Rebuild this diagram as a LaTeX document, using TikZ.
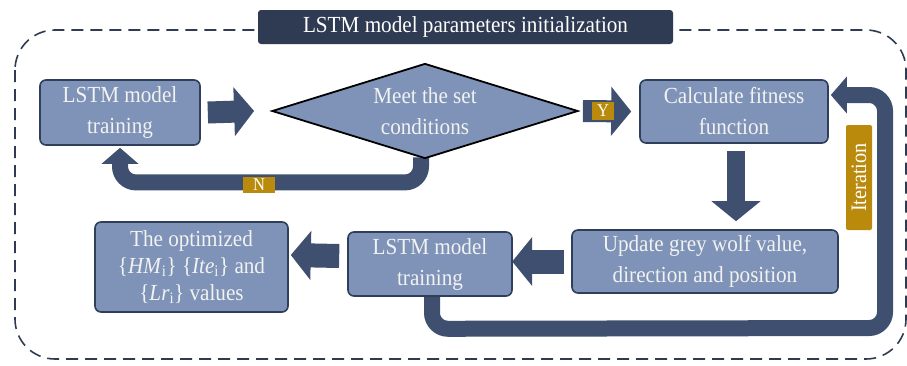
\documentclass[tikz,border=0pt]{standalone}
\usepackage{fontspec}
\setmainfont{Liberation Serif}[FakeStretch=0.92]
\usetikzlibrary{arrows.meta,shapes.geometric,calc,backgrounds}
\definecolor{boxfill}{HTML}{7E93B7}
\definecolor{boxline}{HTML}{2F3E5A}
\definecolor{arrowc}{HTML}{3E4F6F}
\definecolor{titlec}{HTML}{2E3B52}
\definecolor{goldc}{HTML}{BA8A0C}
\definecolor{textc}{HTML}{F2F2F2}
\begin{document}
\begin{tikzpicture}[x=1pt,y=-1pt,
 box/.style={draw=boxline, line width=1.6pt, fill=boxfill, rounded corners=6pt, text=textc, align=center, font=\fontsize{23}{31}\selectfont, inner sep=0pt},
 blockarrow/.style={draw=arrowc, line width=22pt, -{Triangle[width=48pt,length=20pt]}},
 loopband/.style={draw=arrowc, line width=16pt, rounded corners=16pt, -{Triangle[width=36pt,length=16pt]}},
 tag/.style={fill=goldc, text=white, inner sep=0pt, font=\fontsize{18}{18}\selectfont}
]
\useasboundingbox (0,0) rectangle (907,365);

% nodes
\node[box, minimum width=160pt, minimum height=65pt] (b1) at (120,112.5) {LSTM model\\training};
\node[diamond, draw=black, line width=1.8pt, fill=boxfill, minimum width=306pt, minimum height=95pt, inner sep=0pt, shape aspect=3.22, text=textc, align=center, font=\fontsize{23}{31}\selectfont] (d) at (425,111) {Meet the set\\conditions};
\node[box, minimum width=188pt, minimum height=63pt] (c) at (734,111.5) {Calculate fitness\\function};
\node[box, minimum width=266pt, minimum height=63pt] (u) at (705,261.5) {Update grey wolf value,\\direction and position};
\node[box, minimum width=164pt, minimum height=64pt] (l2) at (430,264) {LSTM model\\training};
\node[box, minimum width=193pt, minimum height=90pt, font=\fontsize{23}{27}\selectfont] (o) at (191.5,267) {The optimized\\\{\textit{HM}\textsubscript{i}\} \{\textit{Ite}\textsubscript{i}\} and\\\{\textit{Lr}\textsubscript{i}\} values};

% background: frame and loops
\begin{scope}[on background layer]
\draw[titlec, line width=1.6pt, dash pattern=on 12pt off 7pt, rounded corners=40pt] (15,30) rectangle (906,359);
\draw[loopband] ($(d.south)+(-4,-2)$) -- ($(d.south)+(-4,23)$) -| ($(b1.south)+(0,2)$);
\draw[loopband] ($(l2.south)+(2,-4)$) -- ($(l2.south)+(2,32)$) -- (885,328) -- (885,95) -- ($(c.east)+(2,-16.5)$);
\end{scope}

% title
\node[fill=titlec, rounded corners=3pt, minimum width=415pt, minimum height=34pt, inner sep=0pt, text=white, font=\fontsize{23}{24}\selectfont] (t) at (465.5,27) {LSTM model parameters initialization};

% block arrows
\draw[blockarrow] ($(b1.east)+(7,0)$) -- ($(d.west)+(-17,0)$);
\draw[blockarrow] ($(d.east)+(4,0)$) -- ($(c.west)+(-8,0)$);
\draw[blockarrow, line width=18pt] ($(c.south)+(2,7)$) -- ($(u.north)+(31,-8)$);
\draw[blockarrow, line width=24pt] ($(u.west)+(-7,0)$) -- ($(u.west)+(-59,0)$);
\draw[blockarrow, line width=24pt] ($(l2.west)+(-8,-8)$) -- ($(o.east)+(2,-12)$);

% tags
\node[tag, minimum width=22pt, minimum height=18pt] (ytag) at (603,111) {Y};
\node[tag, minimum width=32pt, minimum height=16pt] (ntag) at (259,185) {N};
\node[tag, rotate=90, rounded corners=2pt, minimum width=105pt, minimum height=26pt, font=\fontsize{22}{22}\selectfont] (itag) at (859,177.5) {Iteration};
\end{tikzpicture}
\end{document}
